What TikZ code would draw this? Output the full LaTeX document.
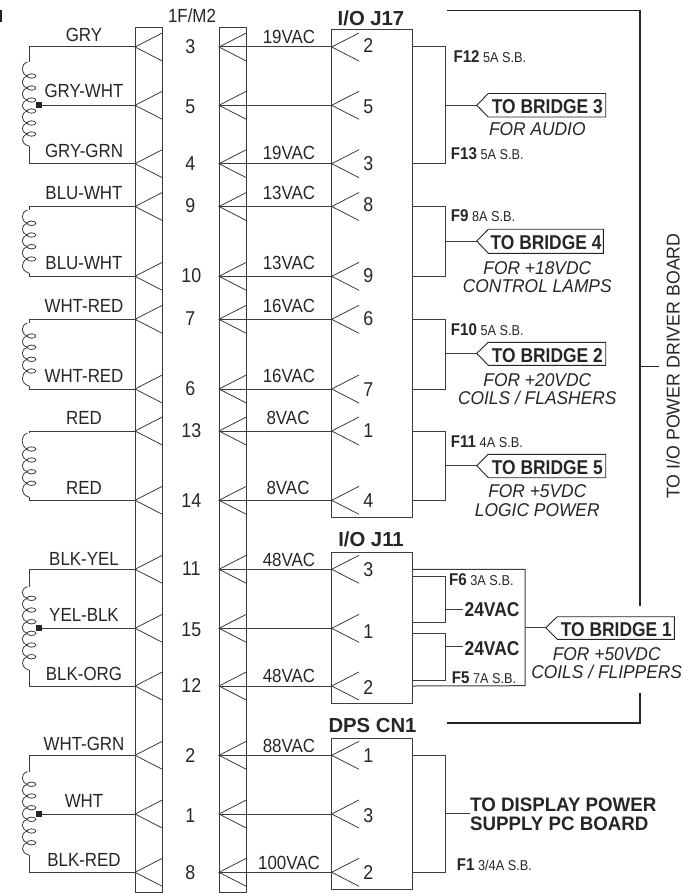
\documentclass[tikz,border=0pt]{standalone}
\usepackage{fontspec}
\setmainfont{Liberation Sans}
\newfontfamily\fa[FakeStretch=0.89]{Liberation Sans}
\newfontfamily\fb[FakeStretch=0.87]{Liberation Sans}
\newfontfamily\fc[FakeStretch=0.96]{Liberation Sans}
\newfontfamily\fd[FakeStretch=0.94]{Liberation Sans}
\usetikzlibrary{calc}
\definecolor{ink}{HTML}{262626}
\definecolor{wirec}{HTML}{3C3C3C}
\tikzset{
  wire/.style={draw=wirec,line width=1pt,line join=miter},
  thickwire/.style={draw=ink,line width=1.6pt,line join=miter},
  chevron/.style={draw=wirec,line width=0.8pt},
  boxn/.style={draw=wirec,line width=1pt,inner sep=0pt,outer sep=0pt},
  lbl/.style={anchor=base,inner sep=0pt,text=ink,font=\fa\fontsize{19}{19}\selectfont},
  num/.style={lbl,font=\fa\fontsize{20}{20}\selectfont},
  head/.style={lbl,font=\bfseries\fontsize{20.3}{20.3}\selectfont},
  dsp/.style={anchor=base west,inner sep=0pt,text=ink,font=\fc\bfseries\fontsize{19.5}{19.5}\selectfont},
  bri/.style={lbl,font=\fb\bfseries\fontsize{20}{20}\selectfont},
  ital/.style={lbl,font=\fd\itshape\fontsize{18.5}{18.5}\selectfont},
  fuse/.style={anchor=base west,inner sep=0pt,text=ink,font=\fa\fontsize{14.3}{14.3}\selectfont},
  tag/.style={draw=ink,line width=0.9pt,fill=white,line join=miter},
}
\newcommand{\fusetxt}[2]{{\bfseries\fontsize{17}{17}\selectfont #1} #2}
% coil: start y, end y, last loop y, loop list
\newcommand{\coilx}[4]{%
  \foreach \yy [remember=\yy as \py (initially #1)] in {#4}{
    \draw[chevron] (27.5,\py) .. controls (20.5,\py+2) and (20.5,\yy-2) .. (27.5,\yy);
    \draw[chevron] (31.5,\yy) ellipse [x radius=4.4,y radius=2.2];
  }
  \draw[chevron] (27.5,#3) .. controls (20.5,#3+2) and (20.5,#2-2) .. (29,#2);
}
\newcommand{\tagx}[5]{% apex name, top, bottom, shoulder x, right x
  \draw[tag] (#1) -- (#4,#2) -- (#5,#2) -- (#5,#3) -- (#4,#3) -- cycle;
}
\begin{document}
\begin{tikzpicture}[x=1pt,y=-1pt]
\useasboundingbox (0,0) rectangle (697,893);
\fill[ink] (0,10) rectangle (1.6,22);

% rows
\foreach \n/\y in {3/47,5/105.3,4/163.7,9/206.5,10/276.3,7/319.3,6/389,13/431,14/500.3,11/569.3,15/628.3,12/686,2/755.3,1/814,8/872.3}{
  \coordinate (a\n) at (29,\y);
  \coordinate (b\n) at (135,\y);
  \coordinate (c\n) at (219,\y);
  \coordinate (d\n) at (331.7,\y);
  \coordinate (e\n) at (412.3,\y);
  \coordinate (f\n) at (445.7,\y);
}
% strips and boxes
\node[boxn,minimum width=27.3pt,minimum height=864pt] (stripL) at (148.65,460) {};
\node[boxn,minimum width=27.3pt,minimum height=864pt] (stripR) at (232.65,460) {};
\node[boxn,minimum width=80.6pt,minimum height=487pt] (j17) at (372,273.5) {};
\node[boxn,minimum width=80.6pt,minimum height=150.7pt] (j11) at (372,627.65) {};
\node[boxn,minimum width=80.6pt,minimum height=150.3pt] (cn1) at (372,813.85) {};

% chevrons and straight wires
\foreach \n in {3,5,4,9,10,7,6,13,14,11,15,12,2,1,8}{
  \draw[chevron] (b\n) ++(27.3,-14) -- (b\n) -- ++(27.3,14);
  \draw[chevron] (c\n) ++(27.3,-14) -- (c\n) -- ++(27.3,14);
  \draw[chevron] (d\n) ++(27.3,-14) -- (d\n) -- ++(27.3,14);
  \draw[wire] (c\n) -- (d\n);
}

% transformer windings
\foreach \t/\u/\ys/\ye in {3/4/62/146,9/10/210/273,7/6/323/386,13/14/433/497,11/12/586.7/670,2/8/771.7/855}{
  \draw[wire] (b\t) -- (a\t) -- (29,\ys);
  \draw[wire] (b\u) -- (a\u) -- (29,\ye);
}
\coilx{62}{146}{134}{76,88,100,111,123,134}
\coilx{210}{273}{259}{223.3,235,246.7,259}
\coilx{323}{386}{371}{336,347.3,359.3,371}
\coilx{433}{497}{483.3}{449,460,471.7,483.3}
\coilx{586.7}{670}{656.7}{598.3,610,621.7,633.3,645,656.7}
\coilx{771.7}{855}{842.7}{784.3,796,807.7,819.3,831,842.7}
% centre taps
\foreach \n in {5,15,1}{
  \node[fill=ink,minimum size=6pt,inner sep=0pt] (tap\n) at ($(a\n)+(10,0)$) {};
  \draw[wire] (tap\n) -- (b\n);
}

% brackets
\foreach \t/\u in {3/4,9/10,7/6,13/14,2/8}{
  \draw[wire] (e\t) -- (f\t) -- (f\u) -- (e\u);
}
% tags
\coordinate (br3) at (445.7,105.3); \coordinate (ap3) at (476.7,105.3);
\coordinate (br4) at (445.7,241);   \coordinate (ap4) at (476.7,241);
\coordinate (br2) at (445.7,353.3); \coordinate (ap2) at (476.7,353.3);
\coordinate (br5) at (445.7,465.7); \coordinate (ap5) at (476.7,465.7);
\coordinate (br1) at (525,627.7);   \coordinate (ap1) at (545.7,627.7);
\foreach \n in {3,4,2,5,1}{ \draw[wire] (br\n) -- (ap\n); }
\tagx{ap3}{93.5}{117}{488.3}{605.7}
\tagx{ap4}{229.3}{253.3}{488.3}{603.3}
\tagx{ap2}{342.3}{365.3}{488.3}{605.7}
\tagx{ap5}{454.3}{477.7}{488.3}{605.7}
\tagx{ap1}{616.7}{639.3}{557.3}{674.3}

% J11 fuses
\coordinate (g1) at (412.3,576);   \coordinate (g2) at (445.7,576);
\coordinate (g3) at (445.7,622);   \coordinate (g4) at (412.3,622);
\coordinate (h1) at (412.3,633.7); \coordinate (h2) at (445.7,633.7);
\coordinate (h3) at (445.7,680);   \coordinate (h4) at (412.3,680);
\draw[wire] (g1) -- (g2) -- (g3) -- (g4);
\draw[wire] (h1) -- (h2) -- (h3) -- (h4);
\node[bri] (v24a) at (492,616.7) {24VAC};
\node[bri] (v24b) at (492,655) {24VAC};
\coordinate (g5) at (445.7,609); \coordinate (g6) at (463,609);
\coordinate (h5) at (445.7,646.7); \coordinate (h6) at (463,646.7);
\draw[wire] (g5) -- (g6);
\draw[wire] (h5) -- (h6);
\coordinate (o1) at (525,569.3); \coordinate (o2) at (525,685.7);
\draw[wire] (e11) -- (o1) -- (o2) -- (e12);

% display branch
\coordinate (dp1) at (445.7,813.7); \coordinate (dp2) at (470,813.7);
\draw[wire] (dp1) -- (dp2);

% thick bracket
\coordinate (t1) at (447.3,10.7); \coordinate (t2) at (640,10.7);
\coordinate (t3) at (640,606);    \coordinate (t4) at (640,693.3);
\coordinate (t5) at (640,722.7);  \coordinate (t6) at (447.3,722.7);
\coordinate (t7) at (640,366.3);  \coordinate (t8) at (659,366.3);
\draw[thickwire] (t1) -- (t2) -- (t3);
\draw[thickwire] (t4) -- (t5) -- (t6);
\draw[thickwire,line width=1.2pt] (t7) -- (t8);

% left labels
\node[lbl] (l3)  at (84,41.7)  {GRY};
\node[lbl] (l5)  at (84,98)    {GRY-WHT};
\node[lbl] (l4)  at (84,157.5) {GRY-GRN};
\node[lbl] (l9)  at (84,200)   {BLU-WHT};
\node[lbl] (l10) at (84,269)   {BLU-WHT};
\node[lbl] (l7)  at (84,312.7) {WHT-RED};
\node[lbl] (l6)  at (84,382)   {WHT-RED};
\node[lbl] (l13) at (84,424.3) {RED};
\node[lbl] (l14) at (84,494.3) {RED};
\node[lbl] (l11) at (84,565)   {BLK-YEL};
\node[lbl] (l15) at (84,621.7) {YEL-BLK};
\node[lbl] (l12) at (84,680.7) {BLK-ORG};
\node[lbl] (l2)  at (84,750.7) {WHT-GRN};
\node[lbl] (l1)  at (84,807.7) {WHT};
\node[lbl] (l8)  at (84,866)   {BLK-RED};
% voltages
\node[lbl] (v3)  at (289,44)    {19VAC};
\node[lbl] (v4)  at (289,160)   {19VAC};
\node[lbl] (v9)  at (289,200)   {13VAC};
\node[lbl] (v10) at (289,269)   {13VAC};
\node[lbl] (v7)  at (289,312.7) {16VAC};
\node[lbl] (v6)  at (289,382)   {16VAC};
\node[lbl] (v13) at (288,424.3) {8VAC};
\node[lbl] (v14) at (288,494.3) {8VAC};
\node[lbl] (v11) at (289,566.7) {48VAC};
\node[lbl] (v12) at (289,682.7) {48VAC};
\node[lbl] (v2)  at (289,752.7) {88VAC};
\node[lbl] (v8)  at (289,869)   {100VAC};
% centre numbers
\node[lbl] (hdr) at (192,22.7) {1F/M2};
\foreach \n/\x/\y in {3/190.3/53.3,5/190.3/113.3,4/190.3/170.7,9/190.3/212.7,10/191.3/282.7,7/190.3/325.3,6/190.3/395.7,13/191.3/437.7,14/191.3/507.7,11/191.3/575.7,15/191.3/636.7,12/191.3/692.7,2/190.3/762.3,1/190.3/822.7,8/190.3/879}{
  \node[num] (n\n) at (\x,\y) {\n};
}
% pin numbers
\foreach \k/\t/\y in {a/2/52.7,b/5/114,c/3/170.7,d/8/211.7,e/9/282.7,f/6/325.3,g/7/396,h/1/437.7,i/4/507.7,j/3/576.7,k/1/638,l/2/694,m/1/762.3,o/3/822.7,p/2/879}{
  \node[num] (p\k) at (368.3,\y) {\t};
}
% headers
\node[head] (hj17) at (371,25.3)  {I/O J17};
\node[head] (hj11) at (371,546.7) {I/O J11};
\node[head] (hcn1) at (372.5,732.3)   {DPS CN1};
% fuses
\node[fuse] (f12) at (453.3,62.7)  {\fusetxt{F12}{5A S.B.}};
\node[fuse] (f13) at (450.7,159.3) {\fusetxt{F13}{5A S.B.}};
\node[fuse] (f9)  at (450.7,221.7) {\fusetxt{F9}{8A S.B.}};
\node[fuse] (f10) at (450.7,335)   {\fusetxt{F10}{5A S.B.}};
\node[fuse] (f11) at (450.7,447.3) {\fusetxt{F11}{4A S.B.}};
\node[fuse] (f6)  at (449,585)     {\fusetxt{F6}{3A S.B.}};
\node[fuse] (f5)  at (451.7,683)   {\fusetxt{F5}{7A S.B.}};
\node[fuse] (f1)  at (456.7,870.7) {\fusetxt{F1}{3/4A S.B.}};
% bridge names
\node[bri] (b3t) at (547.3,113.3) {TO BRIDGE 3};
\node[bri] (b4t) at (546,249)     {TO BRIDGE 4};
\node[bri] (b2t) at (547.3,362)   {TO BRIDGE 2};
\node[bri] (b5t) at (547.3,474.3) {TO BRIDGE 5};
\node[bri] (b1t) at (616.3,636)   {TO BRIDGE 1};
% italics
\node[ital] (i3a) at (537.3,136)   {FOR AUDIO};
\node[ital] (i4a) at (537.3,274)   {FOR +18VDC};
\node[ital] (i4b) at (537.3,292.7) {CONTROL LAMPS};
\node[ital] (i2a) at (537.3,386)   {FOR +20VDC};
\node[ital] (i2b) at (537.3,404.3) {COILS / FLASHERS};
\node[ital] (i5a) at (537.3,497.7) {FOR +5VDC};
\node[ital] (i5b) at (537.3,516.7) {LOGIC POWER};
\node[ital] (i1a) at (606.7,660)   {FOR +50VDC};
\node[ital] (i1b) at (606.7,678.7) {COILS / FLIPPERS};
% display
\node[dsp] (dsp1) at (470,811.7) {TO DISPLAY POWER};
\node[dsp] (dsp2) at (470,830.7) {SUPPLY PC BOARD};
% side
\node[lbl,rotate=90,anchor=center,font=\fc\fontsize{18.5}{18.5}\selectfont] (side) at (673,366) {TO I/O POWER DRIVER BOARD};
\end{tikzpicture}
\end{document}
